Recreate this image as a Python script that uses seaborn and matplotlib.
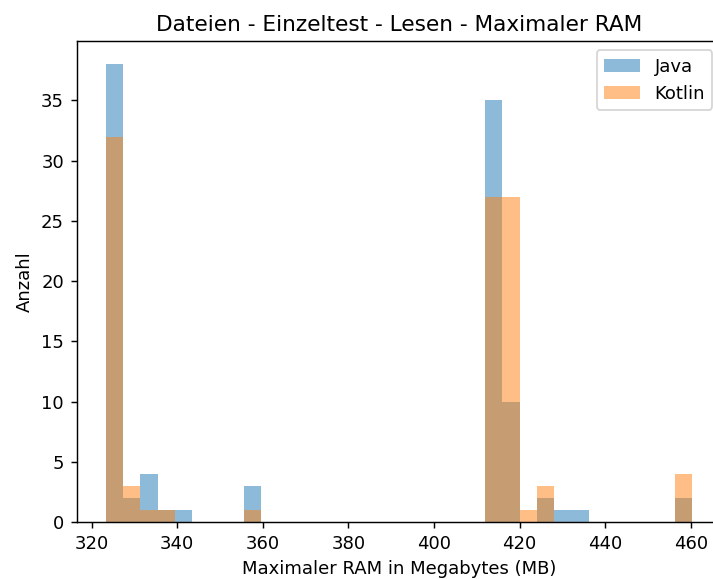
import numpy as np
import pandas as pd
import matplotlib
matplotlib.use("Agg")
import matplotlib.pyplot as plt
import seaborn as sns

# Representative RAM values (MB) per histogram bin and their counts
ram_mb = [325.4, 329.4, 333.4, 337.4, 341.5, 357.6, 414.0, 418.0,
          422.0, 426.1, 430.1, 434.1, 458.3]
java_counts = [38, 2, 4, 1, 1, 3, 35, 10, 0, 2, 1, 1, 2]
kotlin_counts = [32, 3, 1, 1, 0, 1, 27, 27, 1, 3, 0, 0, 4]

title = "Dateien - Einzeltest - Lesen - Maximaler RAM"
xlabel = "Maximaler RAM in Megabytes (MB)"
ylabel = "Anzahl"

df = pd.concat([
    pd.DataFrame({"ram": ram_mb, "n": java_counts, "lang": "Java"}),
    pd.DataFrame({"ram": ram_mb, "n": kotlin_counts, "lang": "Kotlin"}),
])

DPI = 130
fig = plt.figure(figsize=(713 / DPI, 579 / DPI), dpi=DPI)
ax = fig.add_axes([0.1076, 0.0985, 0.904, 0.830])

colors = {"Java": "tab:blue", "Kotlin": "tab:orange"}
for lang in ["Java", "Kotlin"]:
    sub = df[df["lang"] == lang]
    sns.histplot(data=sub, x="ram", weights="n", bins=34,
                 binrange=(323.35, 460.3), color=colors[lang], alpha=0.5,
                 linewidth=0, edgecolor="none", label=lang, ax=ax)

ax.set_title(title, fontsize=12)
ax.set_xlabel(xlabel)
ax.set_ylabel(ylabel)
ax.set_xlim(316.5, 467.15)
ax.set_ylim(0, 39.9)
ax.set_xticks(np.arange(320, 461, 20))
ax.legend(loc="upper right")

fig.savefig("out.png", dpi=DPI)
